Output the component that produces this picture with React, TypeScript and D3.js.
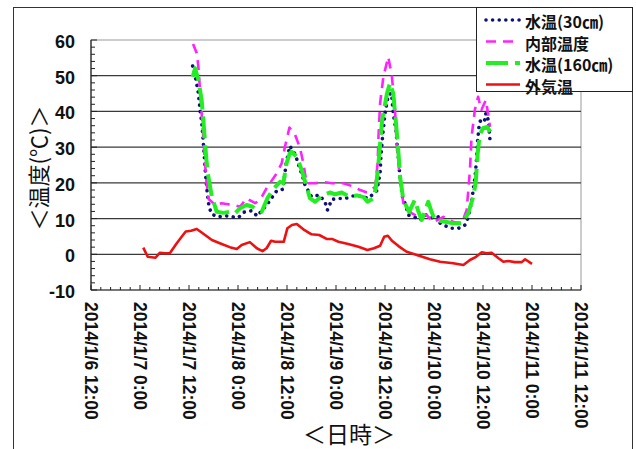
import React from 'react'
import * as d3 from 'd3'

// hours after 2014/1/7 0:00
const hours30 = [12.9, 13.7, 14.3, 14.7, 15.1, 15.4, 15.7, 16.0, 16.4, 16.9, 17.6, 19.2, 20.9, 22.5, 24.1, 25.5, 27.4, 28.7, 31.2, 33.5, 35.0, 35.8, 36.7, 38.0, 39.0, 39.8, 40.4, 42.0, 43.9, 45.3, 45.9, 47.0, 48.6, 50.2, 52.1, 53.9, 55.9, 58.0, 58.8, 59.0, 59.4, 60.0, 60.8, 61.6, 62.0, 62.7, 63.0, 63.4, 63.7, 64.3, 65.1, 65.7, 67.1, 68.6, 70.0, 71.8, 73.0, 73.5, 74.7, 76.3, 78.0, 79.6, 80.4, 81.2, 82.1, 82.4, 82.7, 83.1, 83.7, 84.5, 84.7, 85.3, 85.6, 85.8]
const water30 = [52.7, 48.8, 45.1, 40.4, 37.1, 32.9, 28.3, 23.1, 18.0, 13.3, 11.2, 10.5, 10.8, 10.5, 10.3, 11.8, 12.2, 10.7, 14.1, 17.8, 18.2, 25.5, 30.3, 28.0, 24.5, 21.9, 19.4, 16.1, 16.6, 14.7, 12.4, 15.4, 15.6, 15.6, 16.3, 16.3, 15.7, 17.8, 22.7, 27.3, 32.9, 39.5, 44.6, 45.1, 39.5, 34.8, 30.1, 25.5, 20.8, 16.1, 13.6, 11.0, 10.5, 9.6, 11.0, 10.1, 10.5, 8.7, 8.0, 7.3, 7.3, 8.2, 10.5, 14.7, 22.2, 26.4, 32.0, 36.7, 38.1, 37.6, 39.5, 37.6, 33.7, 30.6]

const hoursInner = [13.0, 13.9, 14.3, 14.7, 15.1, 15.5, 15.9, 16.3, 16.8, 18.4, 20.0, 22.9, 24.5, 26.1, 28.2, 29.4, 31.2, 33.5, 34.7, 35.5, 36.6, 38.0, 39.2, 40.0, 40.8, 42.9, 44.9, 47.0, 49.8, 51.9, 53.9, 55.6, 57.6, 58.2, 58.4, 58.8, 59.6, 60.8, 61.7, 62.5, 62.9, 63.7, 64.5, 66.5, 68.2, 70.2, 71.8, 74.3, 76.8, 78.8, 80.0, 80.8, 81.2, 82.0, 82.8, 83.6, 84.7, 85.3, 85.7]
const inner = [58.9, 56.3, 52.5, 46.0, 39.5, 32.9, 26.0, 20.0, 15.5, 13.8, 14.3, 13.8, 13.3, 15.7, 14.3, 15.2, 18.9, 22.7, 25.5, 30.1, 35.5, 33.4, 29.7, 25.5, 19.9, 19.9, 20.2, 19.9, 19.9, 19.1, 18.0, 17.3, 18.9, 25.5, 32.9, 42.3, 49.7, 55.3, 49.7, 39.5, 30.1, 20.8, 14.3, 11.5, 10.5, 11.0, 9.0, 10.5, 9.0, 8.7, 12.4, 23.6, 32.9, 40.4, 44.1, 40.4, 43.2, 39.0, 35.7]

const hours160 = [12.9, 13.5, 14.3, 15.1, 15.7, 16.2, 16.6, 17.6, 18.8, 20.4, 22.0, 23.3, 24.5, 26.1, 27.6, 28.6, 29.8, 31.2, 32.8, 34.3, 35.1, 35.9, 36.7, 37.1, 38.4, 39.6, 40.7, 41.6, 42.9, 44.9, 46.5, 47.8, 49.4, 51.4, 53.1, 54.8, 55.7, 57.2, 57.8, 58.4, 59.3, 60.5, 61.2, 62.0, 62.7, 63.3, 63.7, 64.5, 65.9, 67.3, 68.2, 69.0, 70.6, 71.4, 72.2, 74.7, 76.7, 78.8, 80.4, 81.6, 82.2, 82.7, 83.2, 84.0, 85.0, 85.8]
const water160 = [49.7, 52.1, 48.8, 43.2, 34.8, 27.3, 22.7, 16.1, 11.9, 11.6, 11.9, 11.5, 12.9, 13.8, 13.3, 12.4, 11.9, 15.7, 18.5, 20.3, 19.9, 25.5, 28.3, 28.7, 27.3, 23.6, 19.4, 15.7, 14.7, 16.6, 17.3, 16.8, 17.3, 16.1, 16.5, 16.0, 14.7, 15.7, 18.9, 25.5, 37.6, 45.1, 47.9, 45.1, 36.7, 28.3, 21.7, 15.2, 11.9, 15.2, 11.9, 9.6, 14.7, 11.9, 9.6, 9.1, 8.7, 8.7, 11.5, 16.1, 19.9, 28.3, 33.4, 35.3, 35.7, 34.3]

const hoursAir = [0.8, 1.9, 3.8, 4.9, 6.1, 7.3, 9.0, 10.2, 11.2, 12.5, 13.9, 15.1, 17.6, 20.0, 22.0, 23.7, 24.9, 26.9, 28.6, 30.0, 31.0, 32.1, 33.1, 35.2, 36.1, 37.2, 38.4, 40.0, 42.0, 43.9, 45.7, 47.0, 48.6, 51.0, 53.5, 55.7, 57.3, 58.8, 59.8, 60.7, 61.7, 63.3, 65.3, 67.8, 71.0, 73.5, 76.7, 79.2, 80.8, 82.3, 83.7, 84.9, 86.1, 87.8, 89.0, 90.2, 91.8, 93.5, 94.3, 96.0]
const air = [1.85, -0.7, -0.95, 0.45, 0.3, 0.3, 3.1, 4.9, 6.4, 6.6, 7.1, 6.1, 4.0, 2.9, 2.0, 1.5, 2.6, 3.4, 1.7, 0.9, 1.7, 3.8, 3.5, 3.5, 7.3, 8.2, 8.5, 7.0, 5.6, 5.4, 4.3, 4.3, 3.5, 2.9, 2.1, 1.2, 1.7, 2.4, 4.9, 5.2, 3.8, 2.3, 0.7, -0.2, -1.4, -2.1, -2.5, -3.0, -1.6, -0.7, 0.55, 0.3, 0.45, -1.1, -2.1, -1.9, -2.2, -2.2, -1.4, -2.7]

const yTicks = [-10, 0, 10, 20, 30, 40, 50, 60]
const legendNames = ['水温(30㎝)', '内部温度', '水温(160㎝)', '外気温']

const base = new Date(2014, 0, 7, 0, 0).getTime()
const toDate = (h: number) => new Date(base + h * 3600000)

const left = 91, right = 581, top = 40, bottom = 290

export default function App() {
  const x = d3.scaleTime()
    .domain([new Date(2014, 0, 6, 12), new Date(2014, 0, 11, 12)])
    .range([left, right])
  const y = d3.scaleLinear().domain([-10, 60]).range([bottom, top])

  const majorX = d3.timeHour.every(12)!.range(x.domain()[0], new Date(2014, 0, 11, 12, 1))
  const minorX = d3.range(0, 51).map(i => new Date(x.domain()[0].getTime() + i * 144 * 60000))
  const minorY = d3.range(-10, 61, 2)
  const fmt = d3.timeFormat('%Y/%-m/%-d %-H:%M')

  const line = (hs: number[], vs: number[]) =>
    d3.line<number>().x((_, i) => x(toDate(hs[i]))).y(v => y(v))(vs) || ''

  const series = [
    { d: line(hours30, water30), stroke: '#10107a', width: 3.6, dash: '0.01 6.6', cap: 'round' },
    { d: line(hoursInner, inner), stroke: '#ff22ff', width: 2.6, dash: '10 7', cap: 'butt' },
    { d: line(hours160, water160), stroke: '#22ee22', width: 4, dash: '22 7', cap: 'butt' },
    { d: line(hoursAir, air), stroke: '#ee1111', width: 2.6, dash: 'none', cap: 'butt' },
  ]

  const num = "'Liberation Sans', Arial, sans-serif"
  const jp = "'Noto Sans CJK JP', sans-serif"

  return (
    <svg width={636} height={449} style={{ position: 'absolute', left: 0, top: 0, background: '#fff' }}>
      <rect x={13.5} y={7.5} width={619} height={460} fill="#fff" stroke="#333" strokeWidth={1} />

      {/* plot area */}
      <rect x={left} y={top} width={right - left} height={bottom - top} fill="#fff" stroke="#999" strokeWidth={1} />
      {yTicks.filter(t => t > -10 && t < 60).map(t => (
        <line key={t} x1={left} x2={right} y1={y(t)} y2={y(t)} stroke="#3a3a3a" strokeWidth={1.2} />
      ))}

      {/* axes */}
      <line x1={left} x2={left} y1={top} y2={bottom} stroke="#222" strokeWidth={1.2} />
      <line x1={left} x2={right} y1={bottom} y2={bottom} stroke="#222" strokeWidth={1.2} />
      {minorY.map(t => (
        <line key={'my' + t} x1={left} x2={left + (t % 10 === 0 ? 6 : 4)} y1={y(t)} y2={y(t)} stroke="#222" />
      ))}
      {minorX.map((d, i) => (
        <line key={'mx' + i} x1={x(d)} x2={x(d)} y1={bottom} y2={bottom - (i % 5 === 0 ? 5 : 3)} stroke="#222" />
      ))}

      {yTicks.map(t => (
        <text key={'yl' + t} x={75} y={y(t) + 2} textAnchor="end" dominantBaseline="central"
          fontFamily={num} fontWeight="bold" fontSize={18} fill="#111">{t}</text>
      ))}
      {majorX.map((d, i) => (
        <text key={'xl' + i} transform={`translate(${x(d)},302) rotate(90)`} dominantBaseline="central"
          fontFamily={num} fontWeight="bold" fontSize={17.5} fill="#111">{fmt(d)}</text>
      ))}

      {/* series */}
      {series.map((s, i) => (
        <path key={i} d={s.d} fill="none" stroke={s.stroke} strokeWidth={s.width}
          strokeDasharray={s.dash} strokeLinecap={s.cap as any} strokeLinejoin="round" />
      ))}

      {/* titles */}
      <text transform="translate(37,168) rotate(-90)" textAnchor="middle" dominantBaseline="central"
        fontFamily={jp} fontSize={22} fill="#111">＜温度(℃)＞</text>
      <text x={349} y={433} textAnchor="middle" dominantBaseline="central"
        fontFamily={jp} fontSize={23} fill="#111">＜日時＞</text>

      {/* legend */}
      <rect x={476.5} y={7.5} width={156} height={84} fill="#fff" />
      {legendNames.map((name, i) => {
        const s = series[i]
        const ly = 19 + i * 21.5
        return (
          <g key={name}>
            <line x1={486} x2={520} y1={ly + 1} y2={ly + 1} stroke={s.stroke} strokeWidth={s.width}
              strokeDasharray={s.dash} strokeLinecap={s.cap as any} />
            <text x={525} y={ly + 2} dominantBaseline="central" fontFamily={jp} fontWeight="bold"
              fontSize={16} fill="#111">{name}</text>
          </g>
        )
      })}
      <rect x={476.5} y={7.5} width={156} height={84} fill="none" stroke="#222" strokeWidth={1} />
    </svg>
  )
}
